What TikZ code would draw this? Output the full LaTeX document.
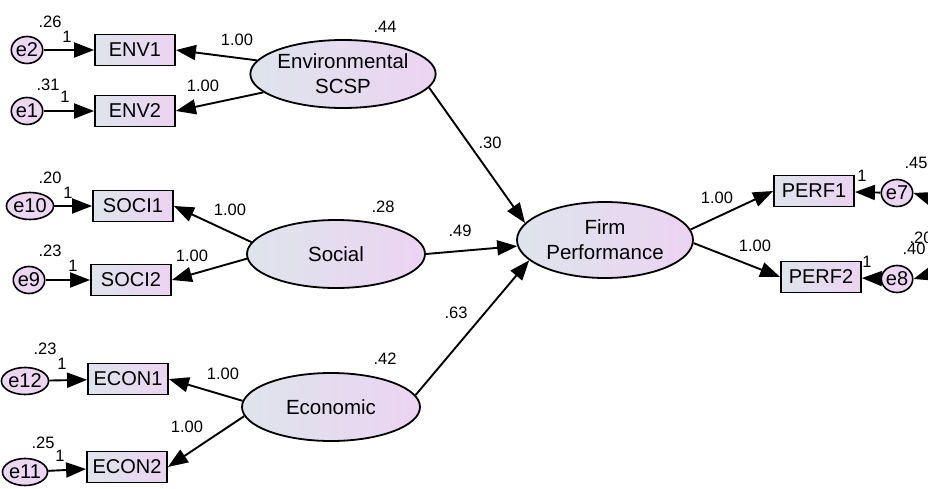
\documentclass[tikz,border=0pt]{standalone}
\usepackage{fontspec}
\setmainfont{Liberation Sans}
\usetikzlibrary{arrows.meta,shapes.geometric}
\definecolor{lft}{RGB}{222,228,236}
\definecolor{rgt}{RGB}{236,211,242}
\definecolor{errc}{RGB}{236,214,242}
\begin{document}
\begin{tikzpicture}[x=1pt,y=-1pt,
  lat/.style={ellipse, draw, line width=1.8pt, minimum width=178pt, minimum height=68pt,
    left color=lft, right color=rgt, inner sep=0pt, align=center,
    font=\fontsize{20.5}{25}\selectfont},
  obs/.style={rectangle, draw, line width=1.8pt, minimum width=80pt, minimum height=31pt,
    left color=lft, right color=rgt, inner sep=0pt, font=\fontsize{20}{22}\selectfont},
  err/.style={ellipse, draw, line width=1.6pt, fill=errc, minimum width=31pt, minimum height=27pt,
    inner sep=0pt, font=\fontsize{20}{22}\selectfont},
  arr/.style={-{Triangle[length=20pt,width=15pt]}, line width=1.9pt},
  dbl/.style={{Triangle[length=20pt,width=15pt]}-{Triangle[length=20pt,width=15pt]}, line width=1.9pt},
  lab/.style={font=\fontsize{16.5}{17}\selectfont, inner sep=0pt}]
\useasboundingbox (0,0) rectangle (928,489);

% latent variables
\node[lat] (env) at (343,74) {Environmental\\SCSP};
\node[lat] (soc) at (336,254) {Social};
\node[lat] (eco) at (331,407) {Economic};
\node[lat, minimum width=176pt, minimum height=76pt] (firm) at (605,240) {Firm\\Performance};

% observed variables
\node[obs] (env1) at (135,50) {ENV1};
\node[obs] (env2) at (135,111) {ENV2};
\node[obs] (soci1) at (133,206) {SOCI1};
\node[obs] (soci2) at (131,280) {SOCI2};
\node[obs] (econ1) at (128,379) {ECON1};
\node[obs] (econ2) at (127,467) {ECON2};
\node[obs] (perf1) at (814,191) {PERF1};
\node[obs] (perf2) at (821,277) {PERF2};

% errors
\node[err] (e2) at (27,50) {e2};
\node[err] (e1) at (27,111) {e1};
\node[err] (e10) at (30,206) {e10};
\node[err] (e9) at (29,280) {e9};
\node[err] (e12) at (25,381) {e12};
\node[err] (e11) at (25,472) {e11};
\node[err] (e7) at (897,193) {e7};
\node[err] (e8) at (897,279) {e8};

% error arrows
\draw[arr] (e2) -- (env1);
\draw[arr] (e1) -- (env2);
\draw[arr] (e10) -- (soci1);
\draw[arr] (e9) -- (soci2);
\draw[arr] (e12) -- (econ1);
\draw[arr] (e11) -- (econ2);
\draw[arr] (e7) -- (perf1);
\draw[arr] (e8) -- (perf2);
\draw[dbl] (e7.east) .. controls (950,205) and (950,268) .. (e8.east);

% loadings
\draw[arr] (env.171) -- (env1.east);
\draw[arr] (env.193) -- (env2.east);
\draw[arr] (soc.172) -- (soci1.east);
\draw[arr] (soc.183) -- (soci2.east);
\draw[arr] (eco.176) -- (econ1.east);
\draw[arr] (eco.186) -- (econ2.east);
\draw[arr] (firm.7) -- (perf1.west);
\draw[arr] (firm.-2) -- (perf2.west);

% structural paths
\draw[arr] (env.-9) -- (firm.168);
\draw[arr] (soc.east) -- (firm.184);
\draw[arr] (eco.8) -- (firm.195);

% labels
\node[lab] (l1) at (50,22) {.26};
\node[lab] (l2) at (67,37) {1};
\node[lab] (l3) at (48,85) {.31};
\node[lab] (l4) at (65,97) {1};
\node[lab] (l5) at (237,40) {1.00};
\node[lab] (l6) at (203,86) {1.00};
\node[lab] (l7) at (385,27) {.44};
\node[lab] (l8) at (50,178) {.20};
\node[lab] (l9) at (68,193) {1};
\node[lab] (l10) at (50,251) {.23};
\node[lab] (l11) at (73,266) {1};
\node[lab] (l12) at (230,210) {1.00};
\node[lab] (l13) at (192,256) {1.00};
\node[lab] (l14) at (383,207) {.28};
\node[lab] (l15) at (45,349) {.23};
\node[lab] (l16) at (62,364) {1};
\node[lab] (l17) at (223,374) {1.00};
\node[lab] (l18) at (187,427) {1.00};
\node[lab] (l19) at (43,443) {.25};
\node[lab] (l20) at (60,456) {1};
\node[lab] (l21) at (385,359) {.42};
\node[lab] (l22) at (490,143) {.30};
\node[lab] (l23) at (460,231) {.49};
\node[lab] (l24) at (456,313) {.63};
\node[lab] (l25) at (717,198) {1.00};
\node[lab] (l26) at (755,246) {1.00};
\node[lab] (l27) at (862,176) {1};
\node[lab] (l28) at (867,262) {1};
\node[lab] (l29) at (916,163) {.45};
\node[lab] (l30) at (921,238) {.20};
\node[lab] (l31) at (914,249) {.40};
\end{tikzpicture}
\end{document}
